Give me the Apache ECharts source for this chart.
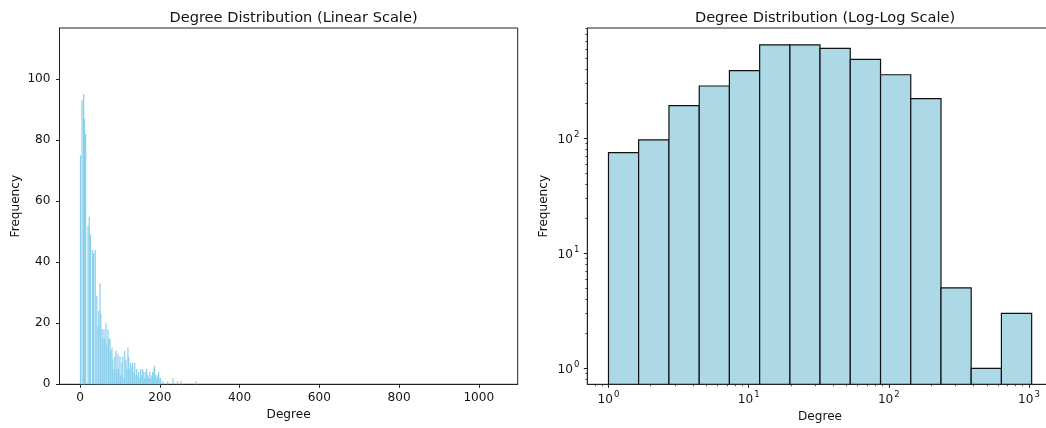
<!DOCTYPE html>
<html>
<head>
<meta charset="utf-8">
<script src="https://cdn.jsdelivr.net/npm/echarts@6/dist/echarts.min.js"></script>
<style>
html,body{margin:0;padding:0;background:#fff;overflow:hidden;}
#c{width:1046px;height:428px;}
</style>
</head>
<body>
<div id="c"></div>
<script>
// ---- Left panel: frequency per degree (~1px resolution) ----
const linDegrees = [1,5,9,11,14,20,23,26,31,34,38,42,45,47,50,52,55,57,60,62,65,67,70,72,75,77,80,82,85,87,90,92,95,97,100,102,105,107,110,112,115,117,120,122,125,127,130,132,135,137,140,142,145,147,150,152,155,157,160,162,165,167,170,172,175,177,180,182,185,187,190,192,195,197,200,202,208,220,233,244,253,291];
const linCounts  = [75,93,95,87,82,52,55,49,44,43,44,29,19,24,33,23,18,15,18,15,20,13,18,15,15,11,12,8,5,9,11,5,10,5,9,3,7,9,2,11,8,5,12,9,5,7,6,7,4,7,3,5,3,4,2,5,3,5,4,2,4,5,3,2,4,2,3,4,5,6,3,2,3,4,2,2,1,1,2,1,1,1];
const linXTicks = [0,200,400,600,800,1000];
const linYTicks = [0,20,40,60,80,100];

// ---- Right panel: log-binned histogram ----
const binEdges  = [1,1.64,2.70,4.44,7.29,11.98,19.7,32.3,53.1,87.3,143.4,235.7,387,636,1045];
const binCounts = [75,97,192,285,387,648,648,606,486,357,221,5,1,3];
const logXTicks = [1,10,100,1000];
const logYTicks = [1,10,100];
const logXMinor = [0.8,0.9,2,3,4,5,6,7,8,9,20,30,40,50,60,70,80,90,200,300,400,500,600,700,800,900];
const logYMinor = [0.8,0.9,2,3,4,5,6,7,8,9,20,30,40,50,60,70,80,90,200,300,400,500,600,700,800,900];

const FONT = 'DejaVu Sans';
const TXT = '#111';
const LINE = '#222';
const TICK = 12.1;
const TITLE = 14.6;

const LX = [-51.6, 1097.6], LY = [0, 116.7];
const RX = [0.706, 1479], RY = [0.726, 910];

const linData = linDegrees.map((d, i) => [d, linCounts[i]]);
const histData = binCounts.map((c, i) => [binEdges[i], binEdges[i + 1], c]);

function powLabel(v) {
  const e = Math.round(Math.log10(v));
  return '{b|10}{s|' + e + '}';
}
const richPow = {
  b: {fontFamily: FONT, fontSize: TICK, color: TXT, verticalAlign: 'bottom', lineHeight: 16},
  s: {fontFamily: FONT, fontSize: 8.5, color: TXT, verticalAlign: 'top', lineHeight: 16, padding: [0, 0, 0, 1]}
};

const axisLine = {show: true, onZero: false, lineStyle: {color: LINE, width: 1}};
const majorTick = (vals) => ({show: true, inside: false, length: 3.5, lineStyle: {color: LINE, width: 1}, customValues: vals});

const chart = echarts.init(document.getElementById('c'), null, {renderer: 'canvas'});
chart.setOption({
  animation: false,
  backgroundColor: '#fff',
  title: [
    {text: 'Degree Distribution (Linear Scale)', left: 288.5, top: 6, textAlign: 'center',
     textStyle: {fontFamily: FONT, fontSize: TITLE, fontWeight: 'normal', color: TXT}},
    {text: 'Degree Distribution (Log-Log Scale)', left: 820, top: 6, textAlign: 'center',
     textStyle: {fontFamily: FONT, fontSize: TITLE, fontWeight: 'normal', color: TXT}}
  ],
  grid: [
    {left: 59.5, width: 458.2, top: 28, bottom: 43.7, containLabel: false, outerBoundsMode: 'none',
     show: true, borderColor: LINE, borderWidth: 1, backgroundColor: 'transparent'},
    {left: 587.3, width: 465.5, top: 28, bottom: 43.7, containLabel: false, outerBoundsMode: 'none',
     show: true, borderColor: LINE, borderWidth: 1, backgroundColor: 'transparent'}
  ],
  xAxis: [
    {type: 'value', gridIndex: 0, min: LX[0], max: LX[1], position: 'bottom',
     name: 'Degree', nameLocation: 'middle', nameGap: 25,
     nameTextStyle: {fontFamily: FONT, fontSize: TICK, color: TXT},
     axisLine: axisLine, splitLine: {show: false},
     axisTick: majorTick(linXTicks),
     axisLabel: {customValues: linXTicks, formatter: v => String(v), fontFamily: FONT, fontSize: TICK, color: TXT, margin: 8}},
    {type: 'log', logBase: 10, gridIndex: 1, min: RX[0], max: RX[1], position: 'bottom',
     name: 'Degree', nameLocation: 'middle', nameGap: 26,
     nameTextStyle: {fontFamily: FONT, fontSize: TICK, color: TXT},
     axisLine: axisLine, splitLine: {show: false},
     axisTick: majorTick(logXTicks),
     axisLabel: {customValues: logXTicks, formatter: powLabel, rich: richPow, margin: 6}},
    {type: 'log', logBase: 10, gridIndex: 1, min: RX[0], max: RX[1], position: 'bottom',
     axisLine: {show: false}, splitLine: {show: false}, axisLabel: {show: false},
     axisTick: {show: true, inside: false, length: 2, lineStyle: {color: LINE, width: 0.8}, customValues: logXMinor}}
  ],
  yAxis: [
    {type: 'value', gridIndex: 0, min: LY[0], max: LY[1], position: 'left',
     name: 'Frequency', nameLocation: 'middle', nameGap: 38,
     nameTextStyle: {fontFamily: FONT, fontSize: TICK, color: TXT},
     axisLine: axisLine, splitLine: {show: false},
     axisTick: majorTick(linYTicks),
     axisLabel: {customValues: linYTicks, fontFamily: FONT, fontSize: TICK, color: TXT, margin: 9}},
    {type: 'log', logBase: 10, gridIndex: 1, min: RY[0], max: RY[1], position: 'left',
     name: 'Frequency', nameLocation: 'middle', nameGap: 37,
     nameTextStyle: {fontFamily: FONT, fontSize: TICK, color: TXT},
     axisLine: axisLine, splitLine: {show: false},
     axisTick: majorTick(logYTicks),
     axisLabel: {customValues: logYTicks, formatter: powLabel, rich: richPow, margin: 8}},
    {type: 'log', logBase: 10, gridIndex: 1, min: RY[0], max: RY[1], position: 'left',
     axisLine: {show: false}, splitLine: {show: false}, axisLabel: {show: false},
     axisTick: {show: true, inside: false, length: 2, lineStyle: {color: LINE, width: 0.8}, customValues: logYMinor}}
  ],
  series: [
    {type: 'bar', xAxisIndex: 0, yAxisIndex: 0, data: linData, barWidth: 1.2,
     itemStyle: {color: 'rgb(135,206,235)'}},
    {type: 'custom', xAxisIndex: 1, yAxisIndex: 1, data: histData,
     encode: {x: [0, 1], y: 2},
     clip: true,
     renderItem: function (params, api) {
       const p0 = api.coord([api.value(0), api.value(2)]);
       const p1 = api.coord([api.value(1), RY[0]]);
       return {
         type: 'rect',
         shape: {x: p0[0], y: p0[1], width: p1[0] - p0[0], height: p1[1] - p0[1]},
         style: {fill: '#add8e6', stroke: '#111', lineWidth: 1.2}
       };
     }}
  ]
});
</script>
</body>
</html>
